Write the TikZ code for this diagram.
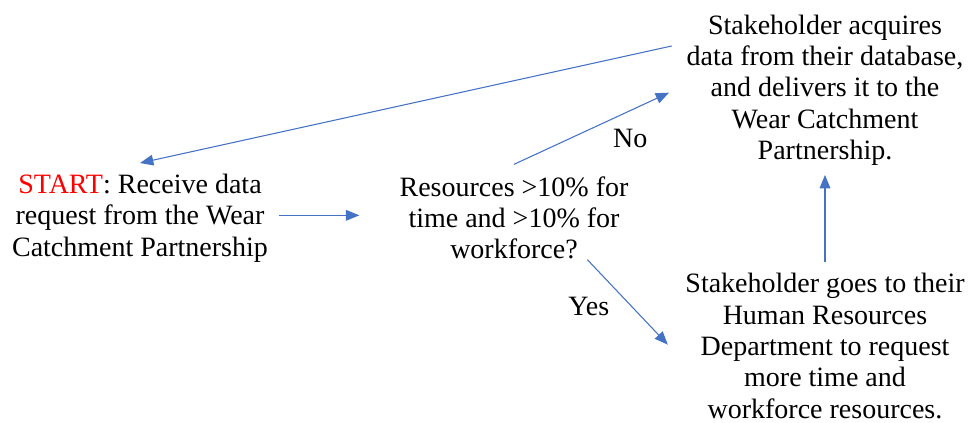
\documentclass[tikz,border=0pt]{standalone}
\usepackage{fontspec}
\setmainfont{Liberation Serif}
\usetikzlibrary{arrows.meta}
\definecolor{wordblue}{RGB}{68,114,196}
\tikzset{box/.style={align=center,inner sep=0pt},
	link/.style={->,draw=wordblue,line width=0.8pt}}
\begin{document}
\begin{tikzpicture}[>={Triangle[length=10pt,width=8pt]},x=0.75pt,y=-0.75pt,font=\fontsize{21}{23.5}\selectfont]
	\useasboundingbox (0,0) rectangle (969,423);
	\node[box] (start) at (140,218) {\textcolor{red}{START}: Receive data\\request from the Wear\\Catchment Partnership};
	\node[box] (dec) at (514,218) {Resources >10\% for\\time and >10\% for\\workforce?};
	\node[box] (acq) at (825,90) {Stakeholder acquires\\data from their database,\\and delivers it to the\\Wear Catchment\\Partnership.};
	\node[box] (hr) at (825,346) {Stakeholder goes to their\\Human Resources\\Department to request\\more time and\\workforce resources.};
	\draw[link] ([xshift=8pt,yshift=2pt]start.east)--([xshift=-30pt,yshift=2pt]dec.west);
	\draw[link] ([yshift=9pt]dec.north)--([xshift=-13pt,yshift=-2pt]acq.west)node[pos=0.75,yshift=-21pt]{No};
	\draw[link] ([xshift=-11pt,yshift=33pt]acq.west)--([yshift=8pt]start.north);
	\draw[link] ([xshift=55pt]dec.south)--([xshift=-13pt,yshift=1pt]hr.west)node[pos=0.3,xshift=-17pt,yshift=-16pt]{Yes};
	\draw[link] ([yshift=8pt]hr.north)--([yshift=-7pt]acq.south);
\end{tikzpicture}
\end{document}
